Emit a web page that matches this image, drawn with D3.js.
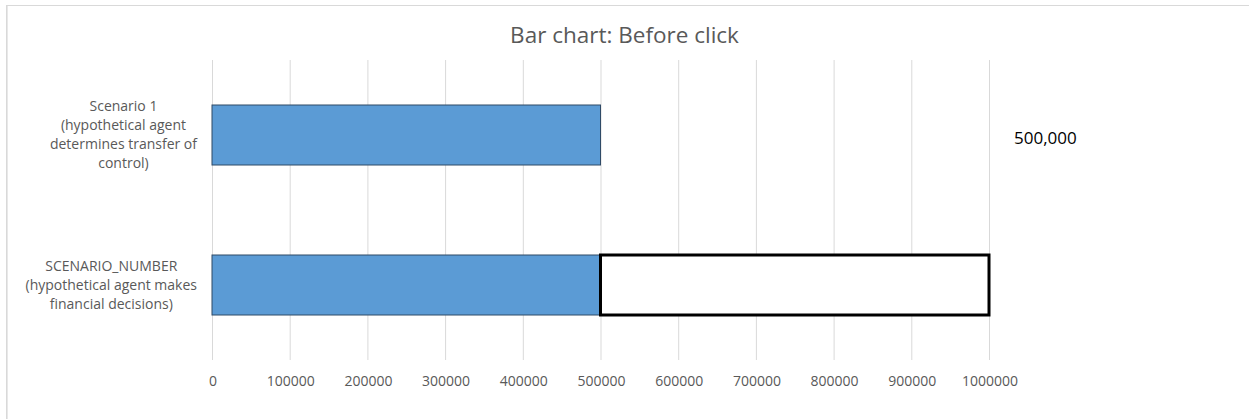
<!DOCTYPE html>
<html><head><meta charset="utf-8">
<script src="https://cdn.jsdelivr.net/npm/d3@7"></script>
<style>html,body{margin:0;padding:0;background:#fff;}svg{display:block;}</style>
</head><body>
<svg id="chart" width="1249" height="419"></svg>
<script>
const title = "Bar chart: Before click";
const categories = [
  ["Scenario 1", "(hypothetical agent", "determines transfer of", "control)"],
  ["SCENARIO_NUMBER", "(hypothetical agent makes", "financial decisions)"]
];
const baseValues = [500000, 500000];
const extraValues = [0, 500000];
const xTicks = [0,100000,200000,300000,400000,500000,600000,700000,800000,900000,1000000];
const valueLabel = "500,000";

const font = "'Open Sans', Lato, sans-serif";
const svg = d3.select("#chart");
const W = 1249, H = 419;
const plot = {left:212, right:989, top:60, bottom:360};

// frame
svg.append("line").attr("x1",6).attr("x2",W).attr("y1",5.5).attr("y2",5.5).attr("stroke","#d9d9d9").attr("stroke-width",1);
svg.append("line").attr("x1",6.8).attr("x2",6.8).attr("y1",5).attr("y2",H).attr("stroke","#d9d9d9").attr("stroke-width",1.6);

const x = d3.scaleLinear().domain([0,1000000]).range([plot.left, plot.right]);
const y = d3.scaleBand().domain(d3.range(categories.length)).range([plot.top, plot.bottom]).paddingInner(0.6).paddingOuter(0.3);

// gridlines
svg.append("g").selectAll("line").data(xTicks).join("line")
  .attr("x1",d=>x(d)+0.5).attr("x2",d=>x(d)+0.5)
  .attr("y1",plot.top).attr("y2",plot.bottom)
  .attr("stroke","#d9d9d9").attr("stroke-width",1);

// axis via d3
const axis = d3.axisBottom(x).tickValues(xTicks).tickFormat(d3.format("d")).tickSize(0).tickPadding(0);
const ag = svg.append("g").attr("transform",`translate(0.5,${plot.bottom})`).call(axis);
ag.select(".domain").remove();
ag.selectAll("text").attr("y",21).attr("dy","0.35em").attr("fill","#595959")
  .style("font-family",font).style("font-size","14px");

// base bars
svg.append("g").selectAll("rect").data(baseValues).join("rect")
  .attr("x",x(0)).attr("y",(d,i)=>y(i))
  .attr("width",d=>x(d)-x(0)).attr("height",y.bandwidth())
  .attr("fill","#5b9bd5").attr("stroke","#2f4a66").attr("stroke-width",1);

// extra (stacked) segments
svg.append("g").selectAll("rect").data(extraValues.map((v,i)=>({v,i})).filter(d=>d.v>0)).join("rect")
  .attr("x",d=>x(baseValues[d.i])).attr("y",d=>y(d.i))
  .attr("width",d=>x(baseValues[d.i]+d.v)-x(baseValues[d.i])).attr("height",y.bandwidth())
  .attr("fill","#ffffff").attr("stroke","#000").attr("stroke-width",3);

// category labels (block right aligned, lines centered)
const lineH = 19;
categories.forEach((lines,i)=>{
  const g = svg.append("g");
  const cy = y(i)+y.bandwidth()/2;
  const texts = g.selectAll("text").data(lines).join("text")
    .attr("y",(d,j)=>cy + (j-(lines.length-1)/2)*lineH)
    .attr("dy","0.35em").attr("text-anchor","middle")
    .attr("fill","#595959").style("font-family",font).style("font-size","14px")
    .text(d=>d);
  let maxW = 0;
  texts.each(function(){maxW=Math.max(maxW,this.getComputedTextLength());});
  texts.attr("x",197-maxW/2);
});

// title
svg.append("text").attr("x",624.5).attr("y",35).attr("dy","0.35em").attr("text-anchor","middle")
  .attr("fill","#595959").style("font-family",font).style("font-size","22.5px").text(title);

// value label
svg.append("text").attr("x",1014).attr("y",138).attr("dy","0.35em")
  .attr("fill","#000").style("font-family",font).style("font-size","17px").text(valueLabel);
</script>
</body></html>
